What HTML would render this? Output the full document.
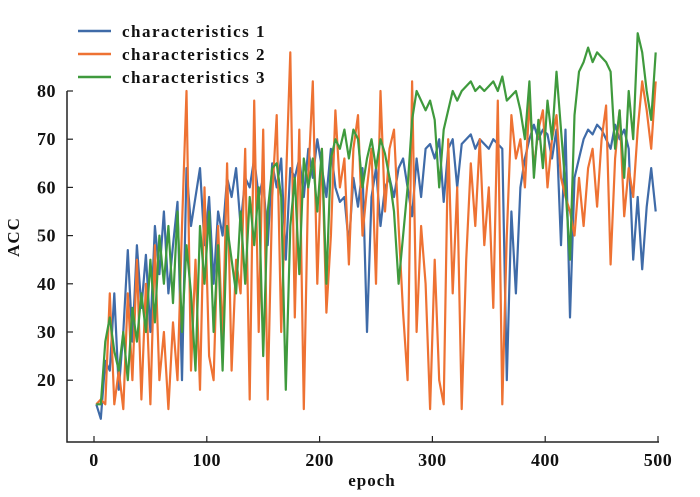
<!DOCTYPE html>
<html><head><meta charset="utf-8"><style>
html,body{margin:0;padding:0;background:#fff;}
svg{display:block;font-family:"Liberation Serif",serif;font-weight:bold;}
</style></head><body>
<svg id="chart" width="700" height="497" viewBox="0 0 700 497" xmlns="http://www.w3.org/2000/svg">
<g id="axes"></g>
<g id="series"></g>
<g id="legend"></g>
</svg>
<script>
const epochs = [];
for (let e = 2; e <= 498; e += 4) epochs.push(e);
const series1 = [15,12,24,22,38,18,30,47,28,48,35,46,30,52,42,55,38,48,57,20,64,52,58,64,48,58,40,55,50,62,58,64,52,62,60,66,58,62,48,65,60,66,45,64,62,66,58,68,62,70,64,58,68,60,57,58,48,62,56,64,30,58,64,52,60,62,58,64,66,60,54,66,58,68,69,66,70,57,68,70,60,69,70,71,68,70,69,68,70,69,68,20,55,38,60,66,70,73,70,72,71,66,72,48,72,33,62,66,70,72,71,73,72,70,68,73,70,72,68,45,58,43,56,64,55];
const series2 = [15,16,15,38,15,22,14,38,20,45,16,40,15,48,20,30,14,32,20,52,80,22,45,18,60,25,20,52,28,65,22,45,38,68,16,78,30,72,16,58,75,30,60,88,33,72,14,62,82,40,68,34,50,76,60,66,44,68,75,50,60,68,40,80,55,68,72,52,34,20,82,30,52,40,14,45,20,15,70,38,60,14,45,65,52,70,48,60,35,78,15,50,75,66,70,60,78,64,72,76,60,70,75,62,58,55,50,62,52,64,68,56,70,77,44,66,76,54,64,58,72,82,76,68,82];
const series3 = [15,15,28,33,26,22,30,20,35,28,38,30,45,32,50,40,52,36,55,30,48,38,22,52,40,55,30,48,22,52,45,38,55,40,58,48,60,25,55,64,65,58,18,52,62,42,66,60,66,55,68,40,66,70,68,72,66,72,70,60,66,70,64,70,67,62,55,40,50,60,74,80,78,76,78,74,60,72,76,80,78,80,81,82,80,81,80,81,82,80,83,78,79,80,76,70,82,62,74,64,78,70,84,72,60,45,75,84,86,89,86,88,87,86,84,68,76,62,80,70,92,88,80,74,88];
const seriesNames = ["characteristics 1","characteristics 2","characteristics 3"];
const xTicks = [0,100,200,300,400,500];
const yTicks = [20,30,40,50,60,70,80];

const NS = "http://www.w3.org/2000/svg";
const colors = ["#3f6ba8","#ee7233","#3f9a3d"];
const xS = v => 94 + v * 1.128;
const yS = v => 91 + (80 - v) * 4.82;
function mk(tag, attrs, parent){ const el = document.createElementNS(NS, tag); for (const k in attrs) el.setAttribute(k, attrs[k]); parent.appendChild(el); return el; }

const axes = document.getElementById('axes');
let a = mk('path', {d:'M67 91 V442 H659', fill:'none', stroke:'#222', 'stroke-width':1.5}, axes);


xTicks.forEach(t => {
  const x = xS(t);
  const tk = mk('line', {x1:x, x2:x, y1:442, y2:436, stroke:'#222', 'stroke-width':1.2}, axes);
  
  
  const tx = mk('text', {x:x, y:466, 'text-anchor':'middle', 'font-size':18, fill:'#111', 'letter-spacing':'0.5'}, axes);
  tx.textContent = t;
  
  
});
yTicks.forEach(t => {
  const y = yS(t);
  const tk = mk('line', {x1:67, x2:73, y1:y, y2:y, stroke:'#222', 'stroke-width':1.2}, axes);
  
  
  const tx = mk('text', {x:56, y:y+6, 'text-anchor':'end', 'font-size':18, fill:'#111', 'letter-spacing':'0.5'}, axes);
  tx.textContent = t;
  
  
});
const xt = mk('text', {x:372, y:486, 'text-anchor':'middle', 'font-size':17, fill:'#111', 'letter-spacing':'1'}, axes);
xt.textContent = 'epoch';


const yt = mk('text', {x:0, y:0, 'text-anchor':'middle', 'font-size':17, fill:'#111', 'letter-spacing':'1', transform:'translate(19,237) rotate(-90)'}, axes);
yt.textContent = 'ACC';



const sg = document.getElementById('series');
[series1, series2, series3].forEach((s, i) => {
  const d = s.map((v, j) => (j ? 'L' : 'M') + xS(epochs[j]).toFixed(1) + ' ' + yS(v).toFixed(1)).join(' ');
  const p = mk('path', {d:d, fill:'none', stroke:colors[i], 'stroke-width':2.2, 'stroke-linejoin':'round'}, sg);
  
  
});
const lg = document.getElementById('legend');
seriesNames.forEach((n, i) => {
  const y = 31 + i * 23;
  const l = mk('line', {x1:78, x2:111, y1:y, y2:y, stroke:colors[i], 'stroke-width':2.5}, lg);
  
  
  const t = mk('text', {x:122, y:y+6, 'font-size':17, fill:'#111', 'letter-spacing':'1.5'}, lg);
  t.textContent = n;
  
  
});
</script>
</body></html>
